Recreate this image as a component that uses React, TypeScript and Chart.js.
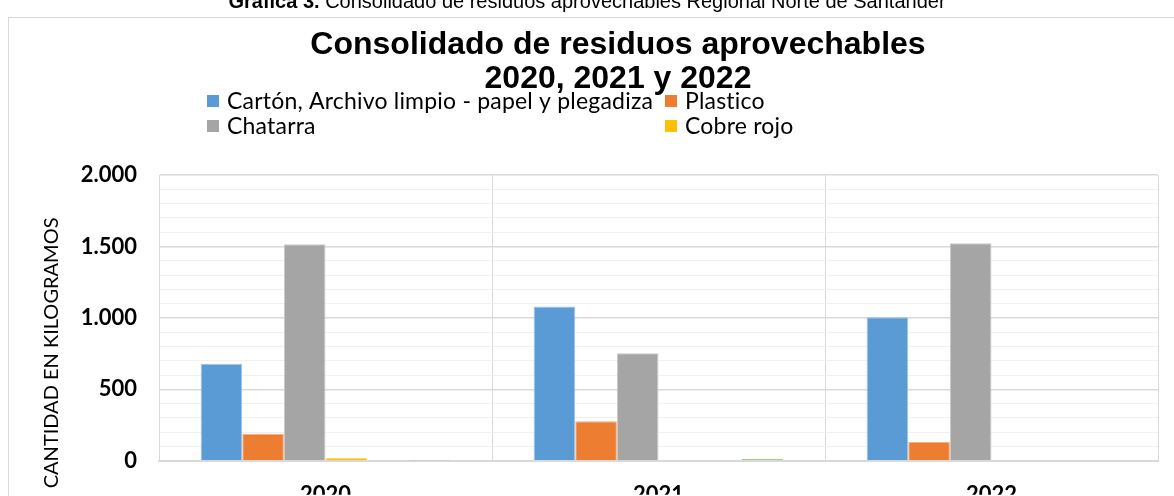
import { useEffect, useRef } from 'react';
import { Chart, registerables } from 'chart.js';

Chart.register(...registerables);

const W = 1174;
const H = 496;

const categories = ['2020', '2021', '2022'];
const carton = [680, 1080, 1005];
const plastico = [190, 277, 132];
const chatarra = [1516, 753, 1523];
const cobreRojo = [19, 0, 0];
const serie5 = [5, 0, 0];
const serie6 = [2, 12, 0];

const seriesNames = [
  'Cartón, Archivo limpio - papel y plegadiza',
  'Plastico',
  'Chatarra',
  'Cobre rojo',
  'Serie 5',
  'Serie 6',
];
const seriesColors = ['#5B9BD5', '#ED7D31', '#A5A5A5', '#FFC000', '#4472C4', '#70AD47'];
const seriesBorders = ['#9DC3E6', '#F4B183', '#C9C9C9', '#FFD966', '#8FAADC', '#A9D18E'];
const legendCount = 4;

const majorTicks = [0, 500, 1000, 1500, 2000];
const yMax = 2000;
const minorStep = 100;

const titleLines = ['Consolidado de residuos aprovechables', '2020, 2021 y 2022'];
const captionBold = 'Gráfica 3.';
const captionRest = ' Consolidado de residuos aprovechables Regional Norte de Santander';
const yAxisTitle = 'CANTIDAD EN KILOGRAMOS';

const CAL = 'Lato, "Open Sans", sans-serif';
const ARIAL = '"Liberation Sans", Arial, sans-serif';

function fmt(v: number): string {
  return String(v).replace(/\B(?=(\d{3})+(?!\d))/g, '.');
}

const decorPlugin = {
  id: 'decor',
  beforeDraw(chart: any) {
    const ctx = chart.ctx as CanvasRenderingContext2D;
    ctx.save();
    ctx.fillStyle = '#ffffff';
    ctx.fillRect(0, 0, W, H);

    // caption (cut at top)
    ctx.fillStyle = '#000000';
    ctx.textBaseline = 'alphabetic';
    ctx.font = `bold 20px ${ARIAL}`;
    const wb = ctx.measureText(captionBold).width;
    ctx.font = `20px ${ARIAL}`;
    const wr = ctx.measureText(captionRest).width;
    const cx0 = 587 - (wb + wr) / 2;
    ctx.font = `bold 20px ${ARIAL}`;
    ctx.textAlign = 'left';
    ctx.fillText(captionBold, cx0, 8);
    ctx.font = `20px ${ARIAL}`;
    ctx.fillText(captionRest, cx0 + wb, 8);

    // frame
    ctx.strokeStyle = '#D9D9D9';
    ctx.lineWidth = 1;
    ctx.strokeRect(8.5, 17.5, 1400, 700);

    // title
    ctx.fillStyle = '#000000';
    ctx.font = `bold 32px ${ARIAL}`;
    ctx.textAlign = 'center';
    ctx.textBaseline = 'middle';
    ctx.fillText(titleLines[0], 618, 45);
    ctx.fillText(titleLines[1], 618, 79);

    // y axis title
    const ca = chart.chartArea;
    ctx.save();
    ctx.translate(52, (ca.top + ca.bottom) / 2 + 35);
    ctx.rotate(-Math.PI / 2);
    ctx.font = `20px ${CAL}`;
    ctx.fillStyle = '#000000';
    ctx.textAlign = 'center';
    ctx.textBaseline = 'middle';
    ctx.fillText(yAxisTitle, 0, 0);
    ctx.restore();
    ctx.restore();
  },
  afterDraw(chart: any) {
    const ctx = chart.ctx as CanvasRenderingContext2D;
    ctx.save();
    const colX = [207, 665];
    const rowY = [101, 126];
    for (let i = 0; i < legendCount; i++) {
      const x = colX[i % 2];
      const y = rowY[Math.floor(i / 2)];
      ctx.fillStyle = seriesColors[i];
      ctx.fillRect(x, y - 6, 12, 12);
      ctx.fillStyle = '#000000';
      ctx.font = `23px ${CAL}`;
      (ctx as any).letterSpacing = '0.2px';
      ctx.textAlign = 'left';
      ctx.textBaseline = 'middle';
      ctx.fillText(chart.data.datasets[i].label, x + 20, y + 1);
    }
    ctx.restore();
  },
};

export default function App() {
  const ref = useRef<HTMLCanvasElement | null>(null);

  useEffect(() => {
    if (!ref.current) return;
    const values = [carton, plastico, chatarra, cobreRojo, serie5, serie6];
    const chart = new Chart(ref.current, {
      type: 'bar',
      data: {
        labels: categories,
        datasets: values.map((d, i) => ({
          label: seriesNames[i],
          data: d,
          backgroundColor: seriesColors[i],
          borderColor: seriesBorders[i],
          borderWidth: 1,
          categoryPercentage: 0.75,
          barPercentage: 1,
        })),
      },
      options: {
        responsive: false,
        animation: false,
        layout: { padding: { left: 0, top: 175, right: 16, bottom: 0 } },
        plugins: {
          legend: { display: false },
          title: { display: false },
          tooltip: { enabled: false },
        },
        scales: {
          x: {
            grid: {
              display: true,
              offset: true,
              color: '#D9D9D9',
              lineWidth: 1,
              drawTicks: false,
            },
            border: { display: true, color: '#D9D9D9', width: 2 },
            ticks: {
              color: '#000000',
              font: { family: 'Lato', size: 22, weight: 'bold' },
              padding: 21,
            },
            afterFit(scale: any) {
              scale.height = H - 462;
            },
          },
          y: {
            min: 0,
            max: yMax,
            grid: {
              drawTicks: false,
              color: (c: any) =>
                majorTicks.includes(c.tick?.value) ? '#D9D9D9' : '#F0F0F0',
              lineWidth: (c: any) => (majorTicks.includes(c.tick?.value) ? 1.5 : 1),
            },
            border: { display: true, color: '#D9D9D9', width: 1 },
            ticks: {
              stepSize: minorStep,
              autoSkip: false,
              color: '#000000',
              font: { family: 'Lato', size: 22, weight: 'bold' },
              padding: 22,
              callback: (v: any) => (majorTicks.includes(Number(v)) ? fmt(Number(v)) : ''),
            },
            afterFit(scale: any) {
              scale.width = 159;
            },
          },
        },
      },
      plugins: [decorPlugin],
    });
    return () => chart.destroy();
  }, []);

  return (
    <div style={{ position: 'absolute', left: 0, top: 0, width: W, height: H, overflow: 'hidden' }}>
      <canvas ref={ref} width={W} height={H} style={{ display: 'block' }} />
    </div>
  );
}
